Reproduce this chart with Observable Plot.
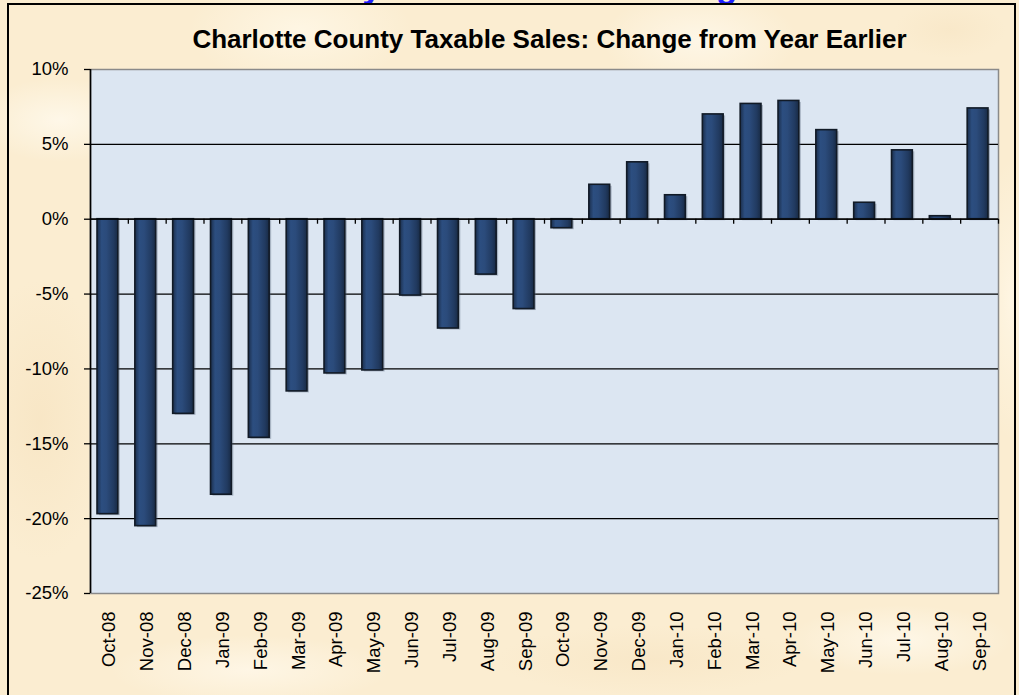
<!DOCTYPE html>
<html>
<head>
<meta charset="utf-8">
<script src="https://cdn.jsdelivr.net/npm/d3@7"></script>
<script src="https://cdn.jsdelivr.net/npm/@observablehq/plot@0.6"></script>
<style>
  html, body { margin: 0; padding: 0; }
  #wrap {
    position: relative; width: 1019px; height: 695px; overflow: hidden;
    background-color: #fbedd1;
    background-image:
      radial-gradient(ellipse 120px 60px at 60px 120px, rgba(255,250,238,0.8), rgba(255,250,238,0) 70%),
      radial-gradient(ellipse 160px 80px at 300px 30px, rgba(255,248,232,0.8), rgba(255,248,232,0) 70%),
      radial-gradient(ellipse 140px 70px at 700px 40px, rgba(255,249,236,0.8), rgba(255,249,236,0) 70%),
      radial-gradient(ellipse 100px 200px at 40px 420px, rgba(246,226,190,0.6), rgba(246,226,190,0) 70%),
      radial-gradient(ellipse 200px 50px at 250px 670px, rgba(255,248,234,0.8), rgba(255,248,234,0) 70%),
      radial-gradient(ellipse 220px 50px at 650px 660px, rgba(247,228,194,0.6), rgba(247,228,194,0) 70%),
      radial-gradient(ellipse 160px 50px at 900px 640px, rgba(255,249,236,0.8), rgba(255,249,236,0) 70%),
      radial-gradient(ellipse 40px 200px at 1010px 300px, rgba(255,247,230,0.8), rgba(255,247,230,0) 70%),
      radial-gradient(ellipse 80px 40px at 950px 30px, rgba(247,229,196,0.6), rgba(247,229,196,0) 70%);
  }
  #topsvg { position: absolute; left: 0; top: 0; }
  #chart { position: absolute; left: 0; top: 0; }
  #border {
    position: absolute; left: 7px; top: 3px; width: 1009px; height: 700px;
    border: 2px solid #000; box-sizing: border-box; pointer-events: none;
  }
</style>
</head>
<body>
<div id="wrap">
  <svg id="topsvg" width="1019" height="10"><text id="toptext" y="-2.5" fill="#1f1fff" font-weight="bold" font-family="Liberation Sans, Arial, sans-serif">Charlotte County Taxable Sales Change</text></svg>
  <div id="chart"></div>
  <div id="border"></div>
</div>
<script>
// ---- Data ----
const months = ["Oct-08","Nov-08","Dec-08","Jan-09","Feb-09","Mar-09","Apr-09","May-09","Jun-09","Jul-09","Aug-09","Sep-09",
                "Oct-09","Nov-09","Dec-09","Jan-10","Feb-10","Mar-10","Apr-10","May-10","Jun-10","Jul-10","Aug-10","Sep-10"];
const changes = [-19.7, -20.5, -13.0, -18.4, -14.6, -11.5, -10.3, -10.1, -5.1, -7.3, -3.7, -6.0,
                 -0.6, 2.3, 3.8, 1.6, 7.0, 7.7, 7.9, 5.95, 1.1, 4.6, 0.2, 7.4];
const yTicks = [-25, -20, -15, -10, -5, 0, 5, 10];
const gridValues = [-20, -15, -10, -5, 0, 5];
const title = "Charlotte County Taxable Sales: Change from Year Earlier";

const data = months.map((m, i) => ({month: m, value: changes[i]}));

// ---- Layout ----
const W = 1019, H = 695;
const mL = 90, mR = 21, mT = 69, mB = 102;
const step = (W - mL - mR) / months.length;
const tickLen = 5 * 35 / (H - mT - mB); // 5px in data units

// position the clipped blue heading at the very top
(function () {
  const t = document.getElementById("toptext");
  const ctx = document.createElement("canvas").getContext("2d");
  ctx.font = "bold 100px 'Liberation Sans', Arial, sans-serif";
  const s = t.textContent;
  const iy = s.indexOf("y"), ig = s.indexOf("g");
  const py = ctx.measureText(s.slice(0, iy)).width + ctx.measureText("y").width * 0.5;
  const pg = ctx.measureText(s.slice(0, ig)).width + ctx.measureText("g").width * 0.5;
  const fs = 100 * (727 - 372) / (pg - py);
  t.setAttribute("font-size", fs);
  t.setAttribute("x", 372 - py * fs / 100);
})();

const chart = Plot.plot({
  width: W, height: H,
  marginLeft: mL, marginRight: mR, marginTop: mT, marginBottom: mB,
  style: {background: "transparent", fontFamily: "Liberation Sans, Arial, sans-serif", color: "black"},
  x: {domain: months, paddingInner: 0.45, paddingOuter: 0.225, round: false, label: null},
  y: {domain: [-25, 10], label: null},
  marks: [
    Plot.frame({fill: "#dce6f2", stroke: "#8a8a8a", strokeWidth: 1.5}),
    Plot.ruleY(gridValues, {stroke: "#000", strokeWidth: 1.3}),
    // bar shadows
    Plot.barY(data, {x: "month", y: "value", fill: "#44546a", fillOpacity: 0.35, dx: 0.5, dy: 1.5}),
    Plot.barY(data, {x: "month", y: "value", fill: "url(#barGrad)", stroke: "#111a26", strokeWidth: 1.6, dx: -1.5}),
    Plot.ruleY([0], {stroke: "#000", strokeWidth: 1.3}),
    // category separator ticks on the zero line
    Plot.ruleX(months, {x: d => d, y1: 0, y2: -tickLen, dx: step / 2, stroke: "#000", strokeWidth: 1.3}),
    // left axis line
    Plot.ruleX([months[0]], {x: d => d, y1: -25, y2: 10, dx: -step / 2, stroke: "#000", strokeWidth: 1.6}),
    Plot.axisY({ticks: yTicks, tickFormat: d => d + "%", tickSize: 6, tickPadding: 16, fontSize: 18.5, stroke: "#000", strokeWidth: 1.3}),
    Plot.axisX({tickRotate: -90, tickSize: 0, tickPadding: 18, fontSize: 18.5}),
    Plot.text([title], {frameAnchor: "top", dy: -40, dx: 5, fontSize: 26, fontWeight: "bold", fill: "#000"})
  ]
});

// gradient definition for the bars
const ns = "http://www.w3.org/2000/svg";
const defs = document.createElementNS(ns, "defs");
const grad = document.createElementNS(ns, "linearGradient");
grad.setAttribute("id", "barGrad");
grad.setAttribute("x1", "0"); grad.setAttribute("x2", "1");
grad.setAttribute("y1", "0"); grad.setAttribute("y2", "0");
[["0", "#1b2e4b"], ["0.22", "#2c4e80"], ["0.45", "#2b4b7b"], ["0.8", "#213a60"], ["1", "#182a44"]].forEach(([o, c]) => {
  const st = document.createElementNS(ns, "stop");
  st.setAttribute("offset", o); st.setAttribute("stop-color", c);
  grad.appendChild(st);
});
defs.appendChild(grad);
chart.insertBefore(defs, chart.firstChild);

document.getElementById("chart").appendChild(chart);
</script>
</body>
</html>
